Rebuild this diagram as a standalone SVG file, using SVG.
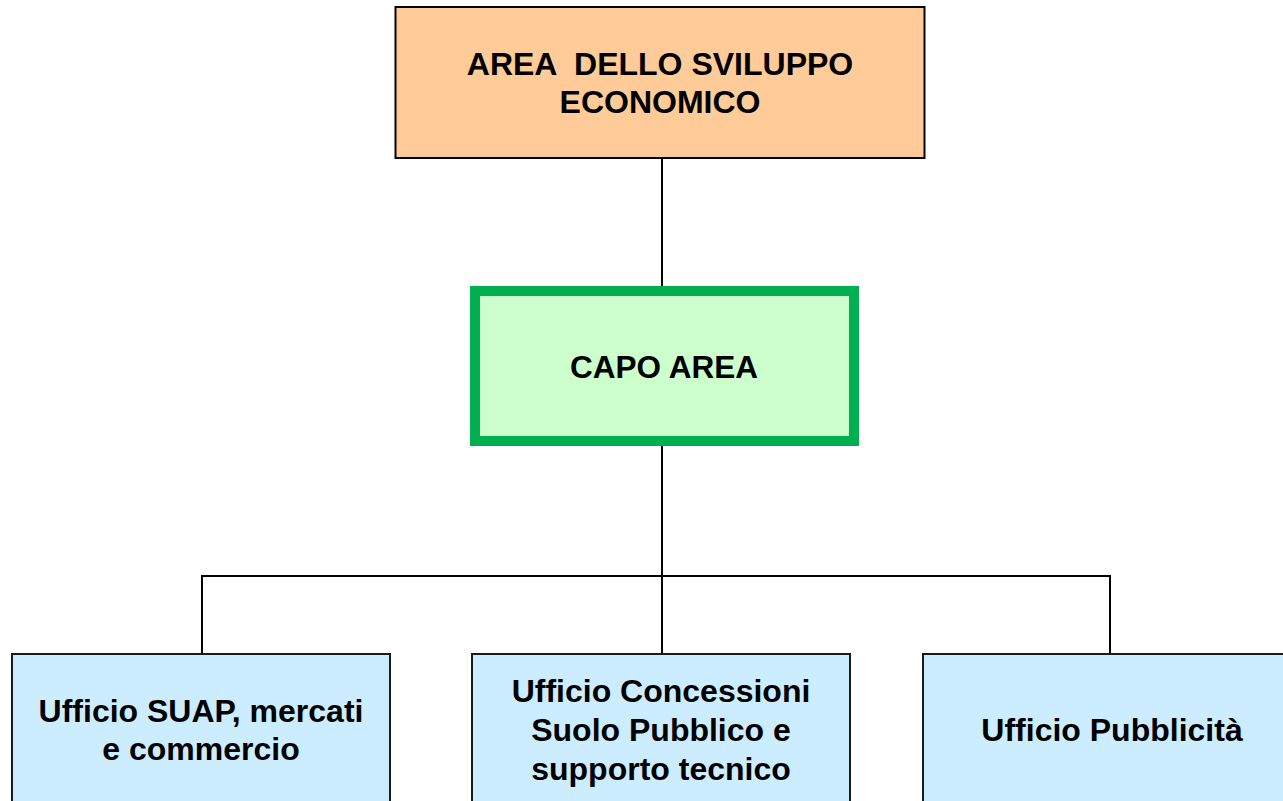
<svg xmlns="http://www.w3.org/2000/svg" width="1283" height="801" viewBox="0 0 1283 801">
<style>
.t{font-family:"Liberation Sans",Arial,sans-serif;font-weight:bold;fill:#000;text-anchor:middle;white-space:pre}
.off{fill:#CCECFF;stroke:#1a1a1a;stroke-width:2}
.conn{stroke:#000;stroke-width:2;fill:none}
</style>
<rect width="1283" height="801" fill="#fff"/>
<g id="connectors">
<line class="conn" x1="662" y1="158" x2="662" y2="287"/>
<line class="conn" x1="662" y1="445" x2="662" y2="654"/>
<polyline class="conn" points="202,654 202,576 1110,576 1110,654"/>
</g>
<g id="area">
<rect x="395.5" y="7" width="529" height="151" fill="#FFCC99" stroke="#000" stroke-width="2"/>
<text class="t" font-size="32" x="660" y="75" xml:space="preserve">AREA  DELLO SVILUPPO</text>
<text class="t" font-size="32" x="660" y="113">ECONOMICO</text>
</g>
<g id="capo">
<rect x="475" y="291" width="379" height="150" fill="#CCFFCC" stroke="#00B050" stroke-width="10"/>
<text class="t" font-size="31.5" x="664" y="378">CAPO AREA</text>
</g>
<g id="suap">
<rect class="off" x="12" y="654" width="378" height="160"/>
<text class="t" font-size="32" x="201" y="722">Ufficio SUAP, mercati</text>
<text class="t" font-size="32" x="201" y="760">e commercio</text>
</g>
<g id="concessioni">
<rect class="off" x="472" y="654" width="378" height="160"/>
<text class="t" font-size="32" x="661" y="702">Ufficio Concessioni</text>
<text class="t" font-size="32" x="661" y="741">Suolo Pubblico e</text>
<text class="t" font-size="32" x="661" y="780">supporto tecnico</text>
</g>
<g id="pubblicita">
<rect class="off" x="923" y="654" width="380" height="160"/>
<text class="t" font-size="32" x="1112" y="741">Ufficio Pubblicità</text>
</g>
</svg>
